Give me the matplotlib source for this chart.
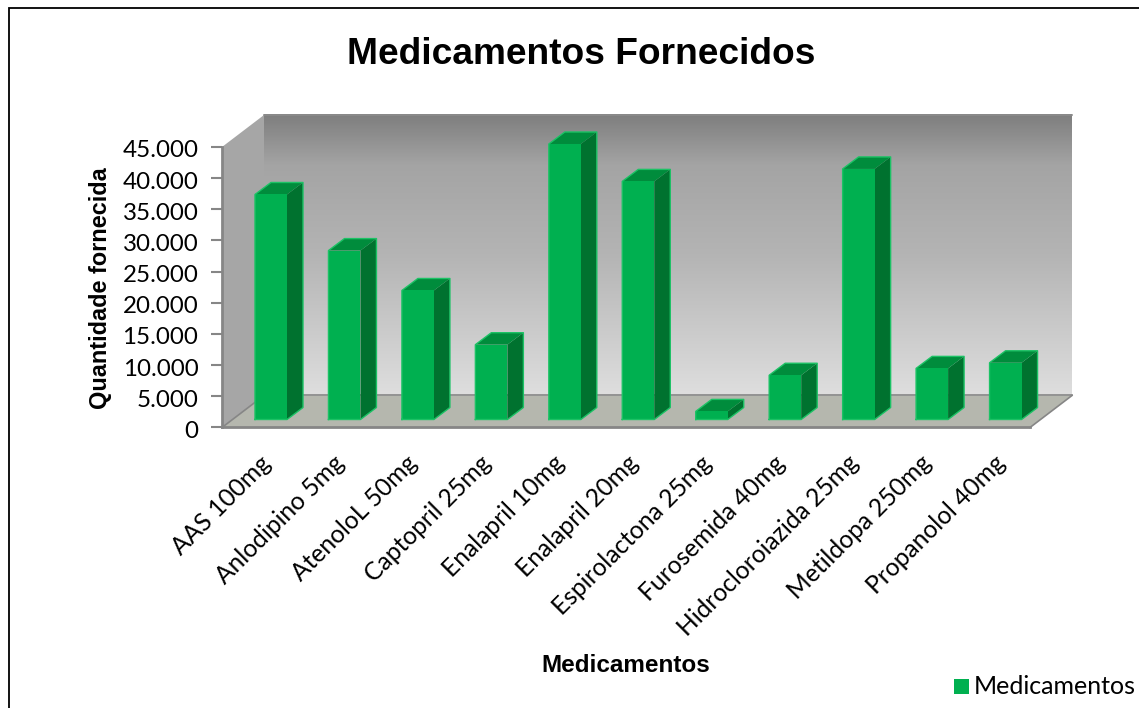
import matplotlib
matplotlib.use("Agg")
import matplotlib.pyplot as plt
from matplotlib.colors import LinearSegmentedColormap
from matplotlib.patches import Polygon, Rectangle
from matplotlib.transforms import ScaledTranslation
import numpy as np

medicamentos = ["AAS 100mg", "Anlodipino 5mg", "AtenoloL 50mg", "Captopril 25mg",
                "Enalapril 10mg", "Enalapril 20mg", "Espirolactona 25mg", "Furosemida 40mg",
                "Hidrocloroiazida 25mg", "Metildopa 250mg", "Propanolol 40mg"]
quantidade = [36100, 27100, 20700, 12000, 44200, 38200, 1300, 7100, 40200, 8200, 9100]
yticks = [0, 5000, 10000, 15000, 20000, 25000, 30000, 35000, 40000, 45000]
yticklabels = ["0", "5.000", "10.000", "15.000", "20.000", "25.000", "30.000", "35.000", "40.000", "45.000"]

W, H = 1139, 708
plt.rcParams["font.family"] = ["Lato", "DejaVu Sans"]

fig = plt.figure(figsize=(W / 100, H / 100), dpi=100)

# plot box in pixels (front wall of the excel 3d chart)
left, right, top, bottom = 222, 1030, 147, 427.5
ax = fig.add_axes([left / W, 1 - bottom / H, (right - left) / W, (bottom - top) / H])
n = len(medicamentos)
ax.patch.set_alpha(0)
for s in ["top", "right"]:
    ax.spines[s].set_visible(False)
for s in ["left", "bottom"]:
    ax.spines[s].set_color("#868686")
    ax.spines[s].set_linewidth(2)
    ax.spines[s].set_zorder(1.6)

# pixel sizes -> data units
px = n / (right - left)
py = 45000 / (bottom - top)
depth_x, depth_y = 42 * px, 32 * py


def face(points, color, z=1):
    p = Polygon(points, closed=True, facecolor=color, edgecolor="none", zorder=z, clip_on=False)
    ax.add_patch(p)
    return p


# back wall, light at the bottom to dark at the top
xs0, xs1 = depth_x, n + depth_x
wall = np.linspace(0, 1, 256).reshape(-1, 1)
cmap = LinearSegmentedColormap.from_list(
    "wall", [(0, "#dedede"), (0.5, "#b4b4b4"), (0.82, "#a4a4a4"), (1, "#7e7e7e")], 256)
ax.imshow(wall, cmap=cmap, origin="lower", aspect="auto", zorder=0,
          extent=[xs0, xs1, depth_y, 45000 + depth_y], clip_on=False)
ax.set_xlim(0, n)
ax.set_ylim(0, 45000)

# side wall and floor
face([(0, 0), (depth_x, depth_y), (depth_x, 45000 + depth_y), (0, 45000)], "#a6a6a6", 1)
face([(0, 0), (n, 0), (xs1, depth_y), (xs0, depth_y)], "#b5b7ae", 1)
for a, b in [((n, 0), (xs1, depth_y)),
             ((0, 0), (xs0, depth_y)),
             ((xs0, depth_y), (xs1, depth_y))]:
    ax.plot([a[0], b[0]], [a[1], b[1]], color="#868686", lw=1.2, zorder=1.5, clip_on=False)
ax.plot([xs0, xs1], [45000 + depth_y] * 2, color="#8c8c8c", lw=1.2, zorder=1.5, clip_on=False)

# bars
bar_w = 32 * px
off_x, off_y = 33 * px, 8 * py
dx, dy = 16 * px, 12 * py
edge = "#1cc265"
for i, q in enumerate(quantidade):
    x0 = i + off_x
    x1 = x0 + bar_w
    y0 = off_y
    y1 = off_y + q
    z = 2 + i * 0.01
    face([(x1, y0), (x1 + dx, y0 + dy), (x1 + dx, y1 + dy), (x1, y1)], "#00722f", z)
    face([(x0, y1), (x1, y1), (x1 + dx, y1 + dy), (x0 + dx, y1 + dy)], "#008c3c", z)
    ax.add_patch(Rectangle((x0, y0), bar_w, q, facecolor="#00b050", edgecolor="none", zorder=z, clip_on=False))
    # light outline round the whole box
    ax.plot([x0, x0, x0 + dx, x1 + dx, x1 + dx, x1, x0],
            [y0, y1, y1 + dy, y1 + dy, y0 + dy, y0, y0],
            color=edge, lw=1, zorder=z + 0.001, clip_on=False)

ax.set_yticks(yticks)
ax.set_yticklabels(yticklabels, fontsize=17.4, color="black")
ax.tick_params(axis="y", length=8, width=1.5, color="#868686", pad=9)
ax.set_xticks(np.arange(n) + 0.5)
ax.set_xticklabels(medicamentos, rotation=45, ha="right", rotation_mode="anchor", fontsize=17.7)
ax.tick_params(axis="x", length=0, pad=17)

# numbers sit a little lower than the tick marks
shift = ScaledTranslation(0, -2 / 100, fig.dpi_scale_trans)
for lab in ax.get_yticklabels():
    lab.set_transform(lab.get_transform() + shift)

fig.text(581 / W, 1 - 55 / H, "Medicamentos Fornecidos", family="Liberation Sans", fontsize=26.7,
         fontweight="bold", ha="center", va="center")
fig.text(100 / W, 1 - 288 / H, "Quantidade fornecida", family="Liberation Sans", fontsize=16.9,
         fontweight="bold", rotation=90, ha="center", va="center")
fig.text(626 / W, 1 - 665 / H, "Medicamentos", family="Liberation Sans", fontsize=17.5,
         fontweight="bold", ha="center", va="center")

# legend
fig.patches.append(Rectangle((954 / W, 1 - 694 / H), 15 / W, 15 / H, transform=fig.transFigure,
                             facecolor="#00b050", edgecolor="none"))
fig.text(974 / W, 1 - 686 / H, "Medicamentos", fontsize=18, ha="left", va="center")

# chart border
fig.patches.append(Rectangle((9 / W, -5 / H), (W + 1) / W, (705) / H, transform=fig.transFigure,
                             facecolor="none", edgecolor="black", lw=1.3, clip_on=False))

fig.savefig("out.png", dpi=100)
